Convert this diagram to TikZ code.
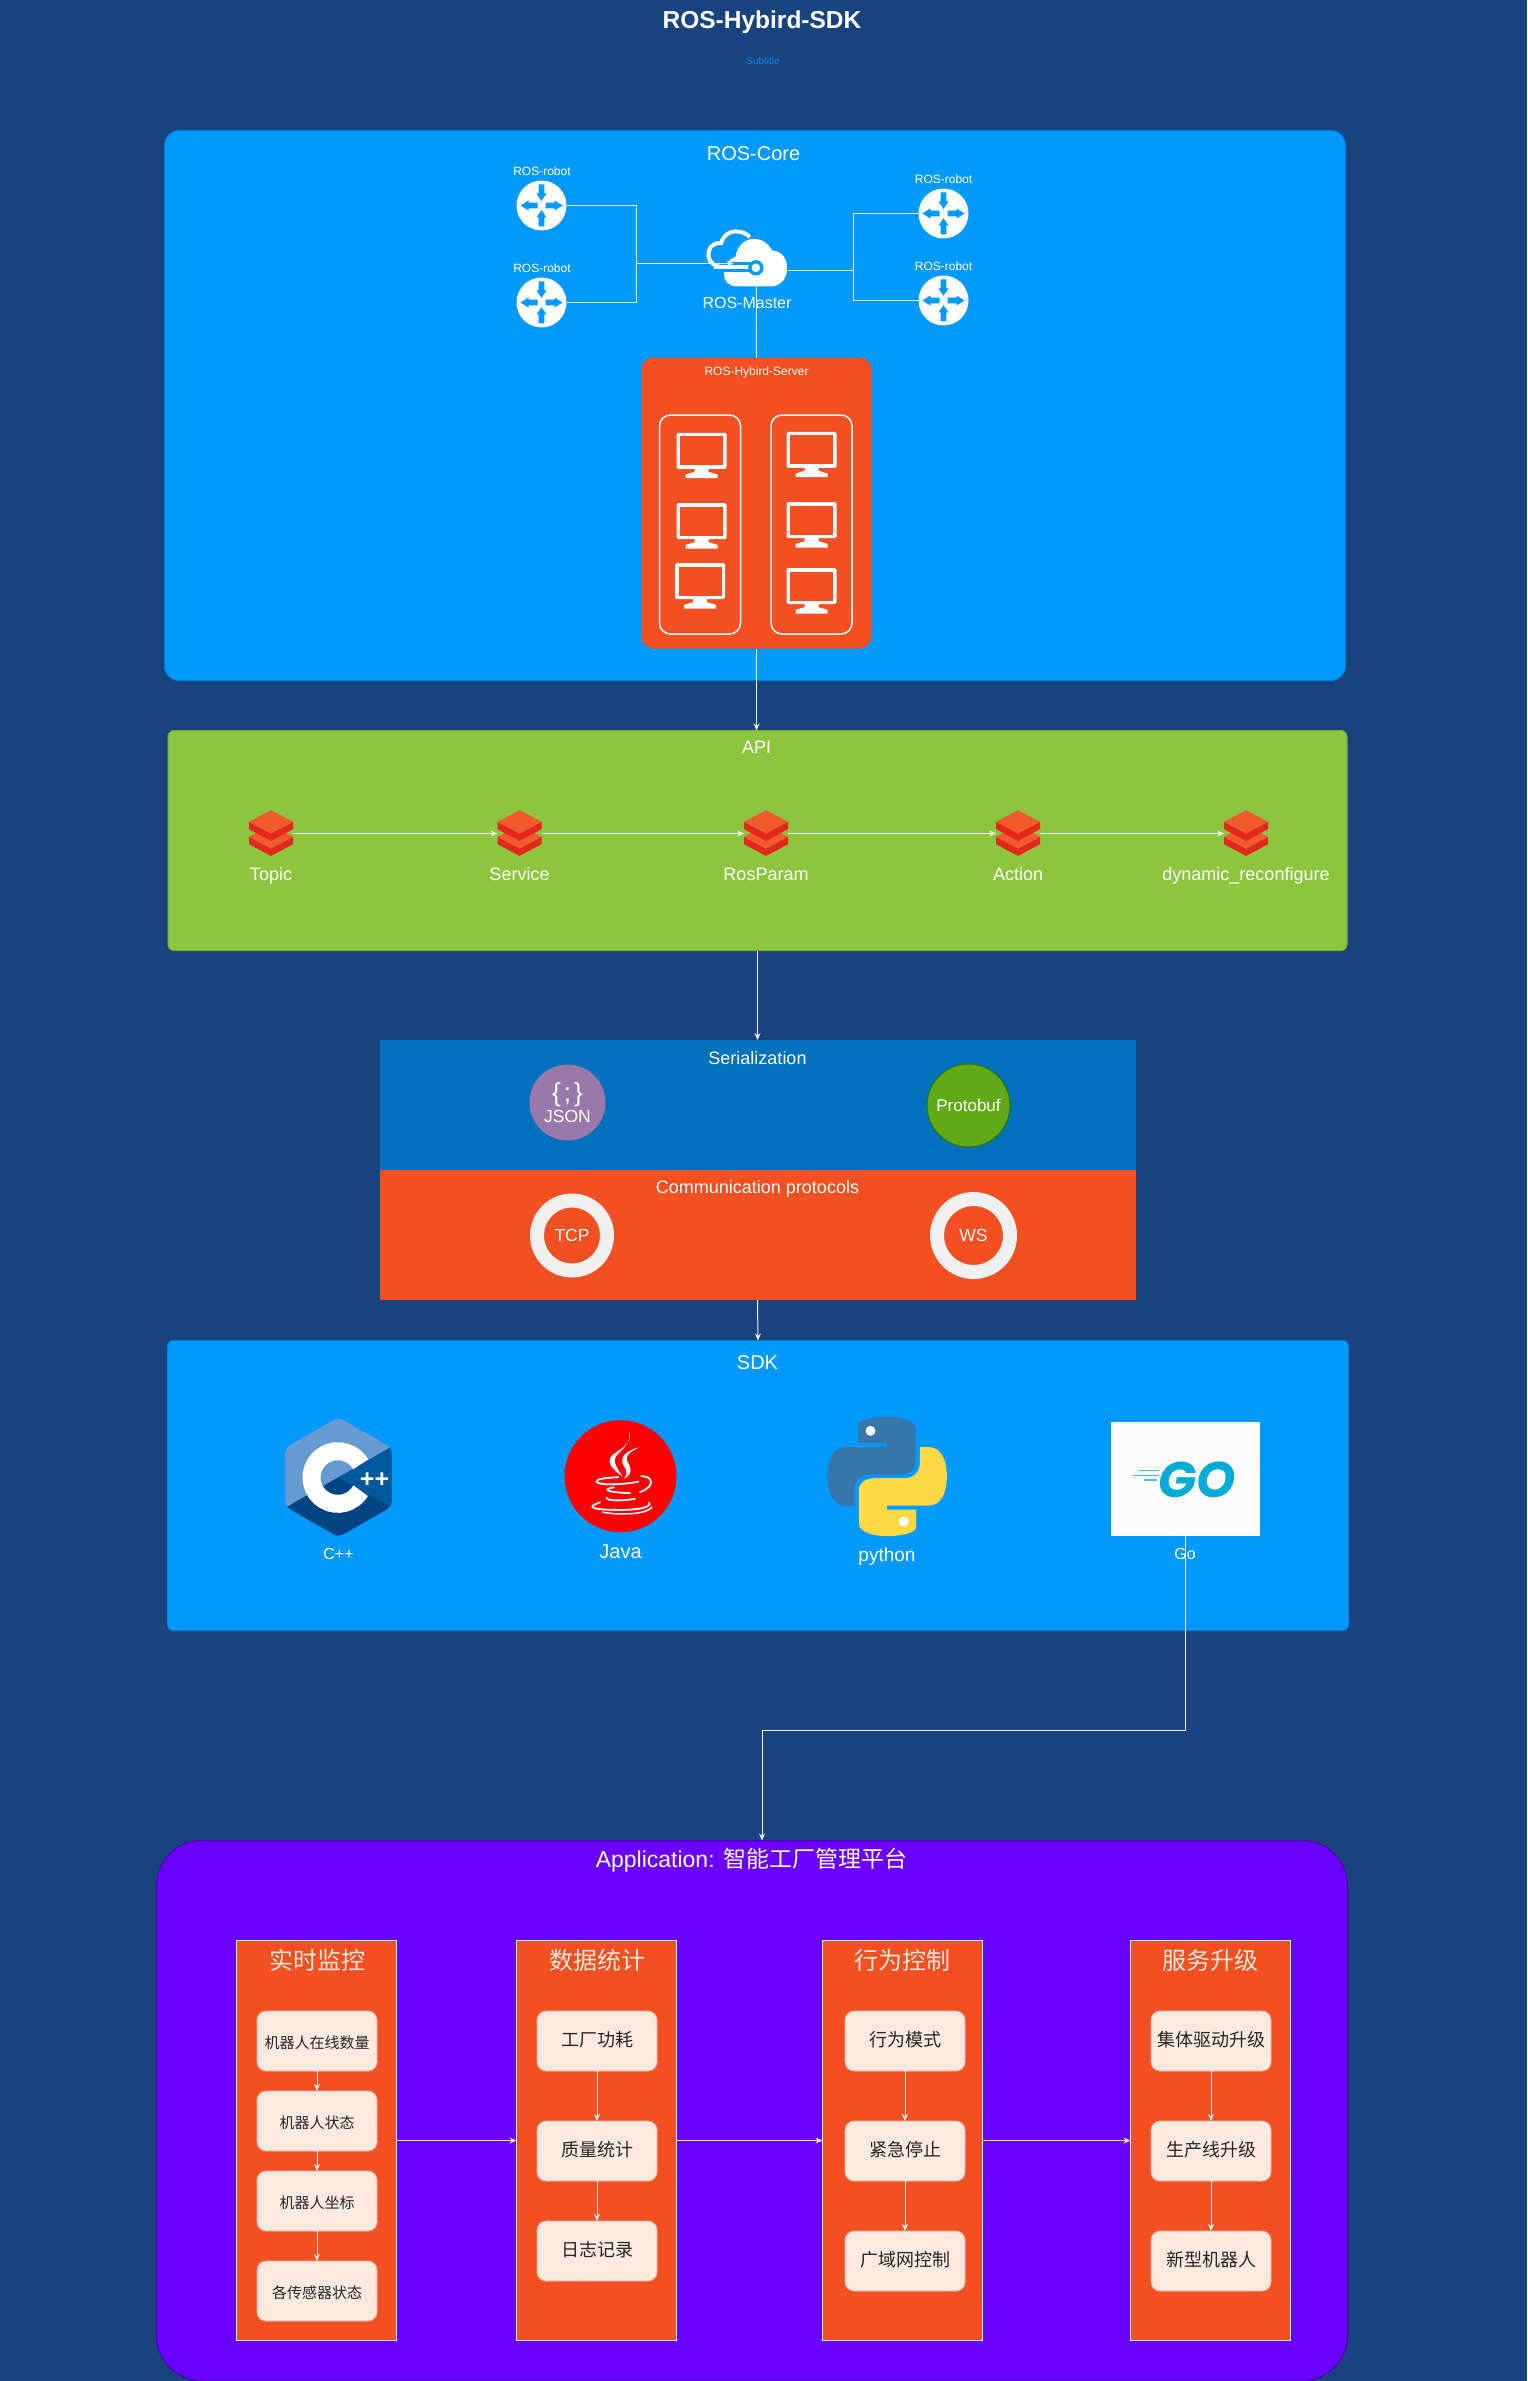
\documentclass[tikz,border=0pt]{standalone}
\usepackage{fontspec}
\usetikzlibrary{arrows.meta}
\setmainfont{Liberation Sans}
\newfontfamily\cjk{Noto Sans CJK SC}
\newfontfamily\gofont{Poppins}
\definecolor{pagebg}{HTML}{19437F}
\definecolor{coreblue}{HTML}{0099FF}
\definecolor{subblue}{HTML}{0F88E6}
\definecolor{apigreen}{HTML}{8CC63F}
\definecolor{serialblue}{HTML}{0071BC}
\definecolor{hotorange}{HTML}{F25022}
\definecolor{appviolet}{HTML}{6A00FF}
\definecolor{paleorange}{HTML}{FCE9E0}
\definecolor{linkgrey}{HTML}{F0F0F0}
\definecolor{layerred}{HTML}{E3271F}
\definecolor{layerorange}{HTML}{F15A2B}
\definecolor{jsonpurple}{HTML}{9A78A9}
\definecolor{protogreen}{HTML}{60A917}
\definecolor{protoedge}{HTML}{2D7600}
\definecolor{cpplight}{HTML}{659AD2}
\definecolor{cppmid}{HTML}{00599C}
\definecolor{cppdark}{HTML}{004482}
\definecolor{pyblue}{HTML}{3776AB}
\definecolor{pyyellow}{HTML}{FFD845}
\definecolor{gocyan}{HTML}{00ACD7}
\tikzset{>={Stealth[length=7pt,width=6pt]}}
\tikzset{
    txt/.style={inner sep=0, outer sep=0, text=white, text height=.8*#1pt, text depth=.08*#1pt, font=\fontsize{#1}{#1}\selectfont},
    coltitle/.style={inner sep=0, outer sep=0, text=paleorange, text height=20pt, text depth=1.8pt, font=\cjk\fontsize{24}{24}\selectfont},
    panel/.style={inner sep=0, outer sep=0, draw=#1!85!black, line width=1pt, fill=#1},
    link/.style={draw=linkgrey, line width=1pt},
    icon/.style={inner sep=0, outer sep=0},
    column/.style={inner sep=0, outer sep=0, draw=white, line width=1pt, fill=hotorange, minimum width=160, minimum height=400},
    job/.style={inner sep=0, outer sep=0, draw=hotorange!35!paleorange, line width=.8pt, fill=paleorange, rounded corners=9pt, minimum width=120, minimum height=60, text=black!85, text height=13pt, text depth=1.3pt, font=\cjk\fontsize{18}{18}\selectfont},
    smalljob/.style={job, text height=15pt, text depth=0pt, font=\cjk\fontsize{15}{15}\selectfont},
    layers/.pic={
        \foreach \d in {15,0} {
            \fill [layerred] (-22,\d-11.7) -- (0,\d) -- (22,\d-11.7) -- (22,\d-4.3) -- (0,\d+7.4) -- (-22,\d-4.3) -- cycle;
            \fill [layerorange] (0,\d-23.3) -- (22,\d-11.7) -- (0,\d) -- (-22,\d-11.7) -- cycle;
        }
    },
    monitor/.pic={
        \fill [white, rounded corners=1.5pt] (-25,0) rectangle (25,36);
        \fill [hotorange] (-21.5,3.5) rectangle (21.5,32.5);
        \fill [white] (-7,36) -- (7,36) -- (7,39) -- (16,41.7) -- (16,45.3) -- (-16,45.3) -- (-16,41.7) -- (-7,39) -- cycle;
    },
    routerarrows/.pic={
        \foreach \r in {0,180} {
            \fill [coreblue, rotate=\r] (-2.8,-21) -- (2.8,-21) -- (2.8,-12) -- (5,-12) -- (0,-4.7) -- (-5,-12) -- (-2.8,-12) -- cycle;
            \fill [coreblue, rotate=\r] (-4,-2.8) -- (-13,-2.8) -- (-13,-5) -- (-21,0) -- (-13,5) -- (-13,2.8) -- (-4,2.8) -- cycle;
        }
    },
}
\begin{document}
\begin{tikzpicture}[x=1pt, y=-1pt]
    \useasboundingbox (-.5,-.5) rectangle (1526.5,2380.5);
    \fill [pagebg] (-.5,-.5) rectangle (1526.5,2380.5);

    \node (title) at (761.5,19.5) [txt=24.5, font=\bfseries\fontsize{24.5}{24.5}\selectfont] {ROS-Hybird-SDK};
    \node (subtitle) at (762.5,60.5) [txt=10, text=subblue] {Subtitle};

    \node (core) at (754.5,405) [panel=coreblue, rounded corners=15pt, minimum width=1181, minimum height=550] {};
    \node (coretitle) at (753,153) [txt=20] {ROS-Core};

    \node (robota) at (541,205) [circle, fill=white, icon, minimum size=50] {};
    \node (robotb) at (541,302) [circle, fill=white, icon, minimum size=50] {};
    \node (robotc) at (943,213) [circle, fill=white, icon, minimum size=50] {};
    \node (robotd) at (943,300) [circle, fill=white, icon, minimum size=50] {};
    \foreach \n in {robota,robotb,robotc,robotd} {
        \pic at (\n) {routerarrows};
    }
    \node (robotalabel) at (541.5,171) [txt=12] {ROS-robot};
    \node (robotblabel) at (541.5,268) [txt=12] {ROS-robot};
    \node (robotclabel) at (943,179) [txt=12] {ROS-robot};
    \node (robotdlabel) at (943,266) [txt=12] {ROS-robot};

    \node (server) at (756,502.5) [panel=hotorange, draw=none, rounded corners=12pt, minimum width=230, minimum height=291] {};
    \node (servertitle) at (756,370.5) [txt=12] {ROS-Hybird-Server};
    \node (rackl) at (699.5,524) [icon, draw=white, line width=1.5pt, rounded corners=11pt, minimum width=81, minimum height=219] {};
    \node (rackr) at (811,524) [icon, draw=white, line width=1.5pt, rounded corners=11pt, minimum width=81, minimum height=219] {};
    \foreach \mx/\my in {701/432.3, 701/502.7, 699.5/562.7, 811/431.3, 811/501.7, 811/567.7} {
        \pic at (\mx,\my) {monitor};
    }

    \node (master) at (760,266.5) [icon, minimum width=54, minimum height=37] {};
    \begin{scope}[shift={(480,130)}, scale=1/3]
        \draw [white, line width=4pt] (808,320) .. controls (790,298) and (735,290) .. (722,338) .. controls (695,335) and (682,355) .. (684,375) .. controls (686,398) and (705,410) .. (730,410);
        \fill [white] (770,468) .. controls (745,468) and (730,450) .. (730,432) .. controls (730,405) and (745,385) .. (765,378) .. controls (770,345) and (795,325) .. (820,325) .. controls (845,325) and (865,340) .. (875,360) .. controls (905,362) and (920,385) .. (920,412) .. controls (920,445) and (900,468) .. (870,468) -- cycle;
        \draw [coreblue, line width=10pt] (725,410) -- (815,410);
        \draw [white, line width=4pt] (700,410) -- (815,410);
        \fill [coreblue] (826,412) circle (23);
        \fill [white] (826,412) circle (13);
    \end{scope}
    \node (masterlabel) at (746.5,302) [txt=16] {ROS-Master};

    \coordinate (leftbus) at (636,263);
    \coordinate (rightbus) at (853,270);
    \draw [link] (robota.east) -| (leftbus);
    \draw [link] (robotb.east) -| (leftbus);
    \draw [link, ->] (leftbus) -- ([yshift=3.5pt]master.west);
    \draw [link] ([yshift=-3.5pt]master.east) -- (rightbus);
    \draw [link] (rightbus) |- (robotc.west);
    \draw [link] (rightbus) |- (robotd.west);
    \draw [link] (server.north |- master.south) -- (server.north);

    \node (api) at (757,840) [panel=apigreen, rounded corners=6pt, minimum width=1179, minimum height=220] {};
    \node (apititle) at (756,747) [txt=18] {API};
    \draw [link, ->] (server.south) -- (server.south |- api.north);

    \node (topic) at (270.5,833) [icon, minimum width=44, minimum height=46] {};
    \node (service) at (519,833) [icon, minimum width=44, minimum height=46] {};
    \node (rosparam) at (765.5,833) [icon, minimum width=44, minimum height=46] {};
    \node (action) at (1017.5,833) [icon, minimum width=44, minimum height=46] {};
    \node (dynconf) at (1245.5,833) [icon, minimum width=44, minimum height=46] {};
    \foreach \n in {topic,service,rosparam,action,dynconf} {
        \pic at (\n) {layers};
    }
    \node (topiclabel) at (270.5,873.5) [txt=18] {Topic};
    \node (servicelabel) at (519,873.5) [txt=18] {Service};
    \node (rosparamlabel) at (765.5,873.5) [txt=18] {RosParam};
    \node (actionlabel) at (1017.5,873.5) [txt=18] {Action};
    \node (dynconflabel) at (1245.5,873.5) [txt=18] {dynamic\_reconfigure};
    \draw [link, ->] (topic) -- (service);
    \draw [link, ->] (service) -- (rosparam);
    \draw [link, ->] (rosparam) -- (action);
    \draw [link, ->] (action) -- (dynconf);

    \node (serial) at (757,1104.5) [panel=serialblue, draw=none, minimum width=756, minimum height=130] {};
    \node (proto) at (757,1234.5) [panel=hotorange, draw=none, minimum width=756, minimum height=130] {};
    \node (serialtitle) at (757,1058) [txt=18] {Serialization};
    \node (prototitle) at (757,1186.7) [txt=18] {Communication protocols};
    \draw [link, ->] (api.south) -- (serial.north);

    \node (json) at (567,1102) [circle, icon, fill=jsonpurple, minimum size=76] {};
    \node (jsonbrace) at (567,1091.6) [txt=26] {\{\hspace{3pt};\hspace{3pt}\}};
    \node (jsontext) at (567,1116) [txt=17.5] {JSON};
    \node (protobuf) at (968,1105) [circle, icon, fill=protogreen, draw=protoedge, line width=1pt, minimum size=83, text=white, font=\fontsize{17}{17}\selectfont] {Protobuf};
    \node (tcp) at (571.5,1235) [circle, icon, fill=hotorange, draw=linkgrey, line width=14pt, minimum size=70, text=white, font=\fontsize{17.5}{17.5}\selectfont] {TCP};
    \node (ws) at (973,1235) [circle, icon, fill=hotorange, draw=linkgrey, line width=14pt, minimum size=73, text=white, font=\fontsize{17.5}{17.5}\selectfont] {WS};

    \node (sdk) at (757.5,1485) [panel=coreblue, rounded corners=6pt, minimum width=1181, minimum height=290] {};
    \node (sdktitle) at (757,1362) [txt=20] {SDK};
    \draw [link, ->] (proto.south) -- (sdk.north);

    \node (cpp) at (338,1476.7) [icon, minimum width=107, minimum height=120] {};
    \begin{scope}[shift={(240,1390)}, scale=1/3]
        \begin{scope}
            \clip [rounded corners=5pt] (294,80) -- (454,172) -- (454,348) -- (294,440) -- (134,348) -- (134,172) -- cycle;
            \fill [cpplight] (100,60) rectangle (480,460);
            \fill [cppmid] (294,260) -- (480,153) -- (480,367) -- cycle;
            \fill [cppdark] (294,260) -- (480,367) -- (480,460) -- (100,460) -- (100,372) -- cycle;
        \end{scope}
        \draw [white, line width=18pt] (292,261) ++(30:79) arc [start angle=30, end angle=330, radius=79];
    \end{scope}
    \node (cppplus) at (374,1478) [txt=25, font=\bfseries\fontsize{25}{25}\selectfont] {++};
    \node (cpplabel) at (338,1553) [txt=16] {C++};

    \node (java) at (620,1475.7) [circle, icon, fill=red, minimum size=112] {};
    \begin{scope}[shift={(240,1390)}, scale=1/3]
        \fill [white] (1165,120) .. controls (1185,175) and (1105,180) .. (1107,212) .. controls (1110,235) and (1135,250) .. (1147,258) .. controls (1130,235) and (1118,215) .. (1125,200) .. controls (1140,175) and (1175,165) .. (1165,120) -- cycle;
        \fill [white] (1197,170) .. controls (1165,178) and (1140,195) .. (1145,215) .. controls (1148,232) and (1170,240) .. (1150,265) .. controls (1180,250) and (1170,225) .. (1160,212) .. controls (1152,195) and (1175,180) .. (1197,170) -- cycle;
        \draw [white, line width=1.8pt] (1135,260) .. controls (1095,262) and (1065,265) .. (1068,274) .. controls (1075,285) and (1150,283) .. (1195,273);
        \draw [white, line width=1.8pt] (1200,257) .. controls (1240,255) and (1245,290) .. (1197,305);
        \draw [white, line width=1.8pt] (1122,290) .. controls (1088,295) and (1088,305) .. (1170,308);
        \draw [white, line width=1.8pt] (1100,320) .. controls (1092,330) and (1130,333) .. (1185,325);
        \draw [white, line width=1.8pt] (1080,335) .. controls (1035,350) and (1055,357) .. (1120,358) .. controls (1180,360) and (1240,352) .. (1225,335);
        \draw [white, line width=1.5pt] (1085,365) .. controls (1140,375) and (1215,372) .. (1235,350);
    \end{scope}
    \node (javalabel) at (620,1551) [txt=20] {Java};

    \node (python) at (887,1476) [icon, minimum width=120, minimum height=120] {};
    \begin{scope}[shift={(780,1390)}, scale=1/3]
        \fill [pyblue] (233,158) -- (233,105) .. controls (233,85) and (290,78) .. (320,78) .. controls (360,78) and (405,90) .. (405,115) -- (405,215) .. controls (405,240) and (385,252) .. (355,252) -- (270,252) .. controls (240,252) and (222,270) .. (222,300) -- (222,345) -- (195,345) .. controls (160,345) and (141,310) .. (141,258) .. controls (141,205) and (160,170) .. (195,170) -- (320,170) -- (320,158) -- cycle;
        \fill [pyyellow, rotate around={180:(320,257.5)}] (233,158) -- (233,105) .. controls (233,85) and (290,78) .. (320,78) .. controls (360,78) and (405,90) .. (405,115) -- (405,215) .. controls (405,240) and (385,252) .. (355,252) -- (270,252) .. controls (240,252) and (222,270) .. (222,300) -- (222,345) -- (195,345) .. controls (160,345) and (141,310) .. (141,258) .. controls (141,205) and (160,170) .. (195,170) -- (320,170) -- (320,158) -- cycle;
        \fill [white] (270,121) circle (15);
        \fill [white] (370,393) circle (15);
    \end{scope}
    \node (pythonlabel) at (886.5,1554) [txt=19] {python};

    \node (go) at (1184.5,1478.5) [icon, fill=white!99!black, minimum width=149, minimum height=114] {};
    \node (gologo) at (1197,1479) [icon, text=gocyan, font=\gofont\bfseries\itshape\fontsize{50}{50}\selectfont] {GO};
    \begin{scope}[shift={(780,1390)}, scale=1/3]
        \draw [gocyan!75!white, line width=1.5pt] (1075,240) -- (1135,240);
        \draw [gocyan!75!white, line width=1.5pt] (1053,255) -- (1135,255);
        \draw [gocyan!75!white, line width=1.5pt] (1090,269) -- (1128,269);
    \end{scope}
    \node (golabel) at (1184.5,1553) [txt=16] {Go};

    \node (app) at (751.5,2110) [panel=appviolet, draw=appviolet!70!black, rounded corners=45pt, minimum width=1191, minimum height=540] {};
    \node (apptitle) at (751,1859) [txt=23] {Application: {\cjk 智能工厂管理平台}};
    \coordinate (gobend) at (1184.5,1730);
    \draw [link] (go.south) -- (gobend);
    \draw [link, ->] (gobend) -| (761.5,1840);

    \node (monitoring) at (316,2140) [column] {};
    \node (statistics) at (596,2140) [column] {};
    \node (control) at (902,2140) [column] {};
    \node (upgrade) at (1210,2140) [column] {};
    \node (monitoringtitle) at (316.5,1960) [coltitle] {实时监控};
    \node (statisticstitle) at (596.5,1960) [coltitle] {数据统计};
    \node (controltitle) at (902,1960) [coltitle] {行为控制};
    \node (upgradetitle) at (1210,1960) [coltitle] {服务升级};
    \draw [link, ->] (monitoring) -- (statistics);
    \draw [link, ->] (statistics) -- (control);
    \draw [link, ->] (control) -- (upgrade);

    \node (online) at (316.5,2040.5) [smalljob] {机器人在线数量};
    \node (state) at (316.5,2120.5) [smalljob] {机器人状态};
    \node (coord) at (316.5,2200.5) [smalljob] {机器人坐标};
    \node (sensor) at (316.5,2290.5) [smalljob] {各传感器状态};
    \draw [link, ->] (online) -- (state);
    \draw [link, ->] (state) -- (coord);
    \draw [link, ->] (coord) -- (sensor);

    \node (power) at (596.5,2040.5) [job] {工厂功耗};
    \node (quality) at (596.5,2150.5) [job] {质量统计};
    \node (logs) at (596.5,2250.5) [job] {日志记录};
    \draw [link, ->] (power) -- (quality);
    \draw [link, ->] (quality) -- (logs);

    \node (mode) at (904.5,2040.5) [job] {行为模式};
    \node (estop) at (904.5,2150.5) [job] {紧急停止};
    \node (wan) at (904.5,2260.5) [job] {广域网控制};
    \draw [link, ->] (mode) -- (estop);
    \draw [link, ->] (estop) -- (wan);

    \node (driver) at (1210.5,2040.5) [job] {集体驱动升级};
    \node (line) at (1210.5,2150.5) [job] {生产线升级};
    \node (newbot) at (1210.5,2260.5) [job] {新型机器人};
    \draw [link, ->] (driver) -- (line);
    \draw [link, ->] (line) -- (newbot);
\end{tikzpicture}
\end{document}
